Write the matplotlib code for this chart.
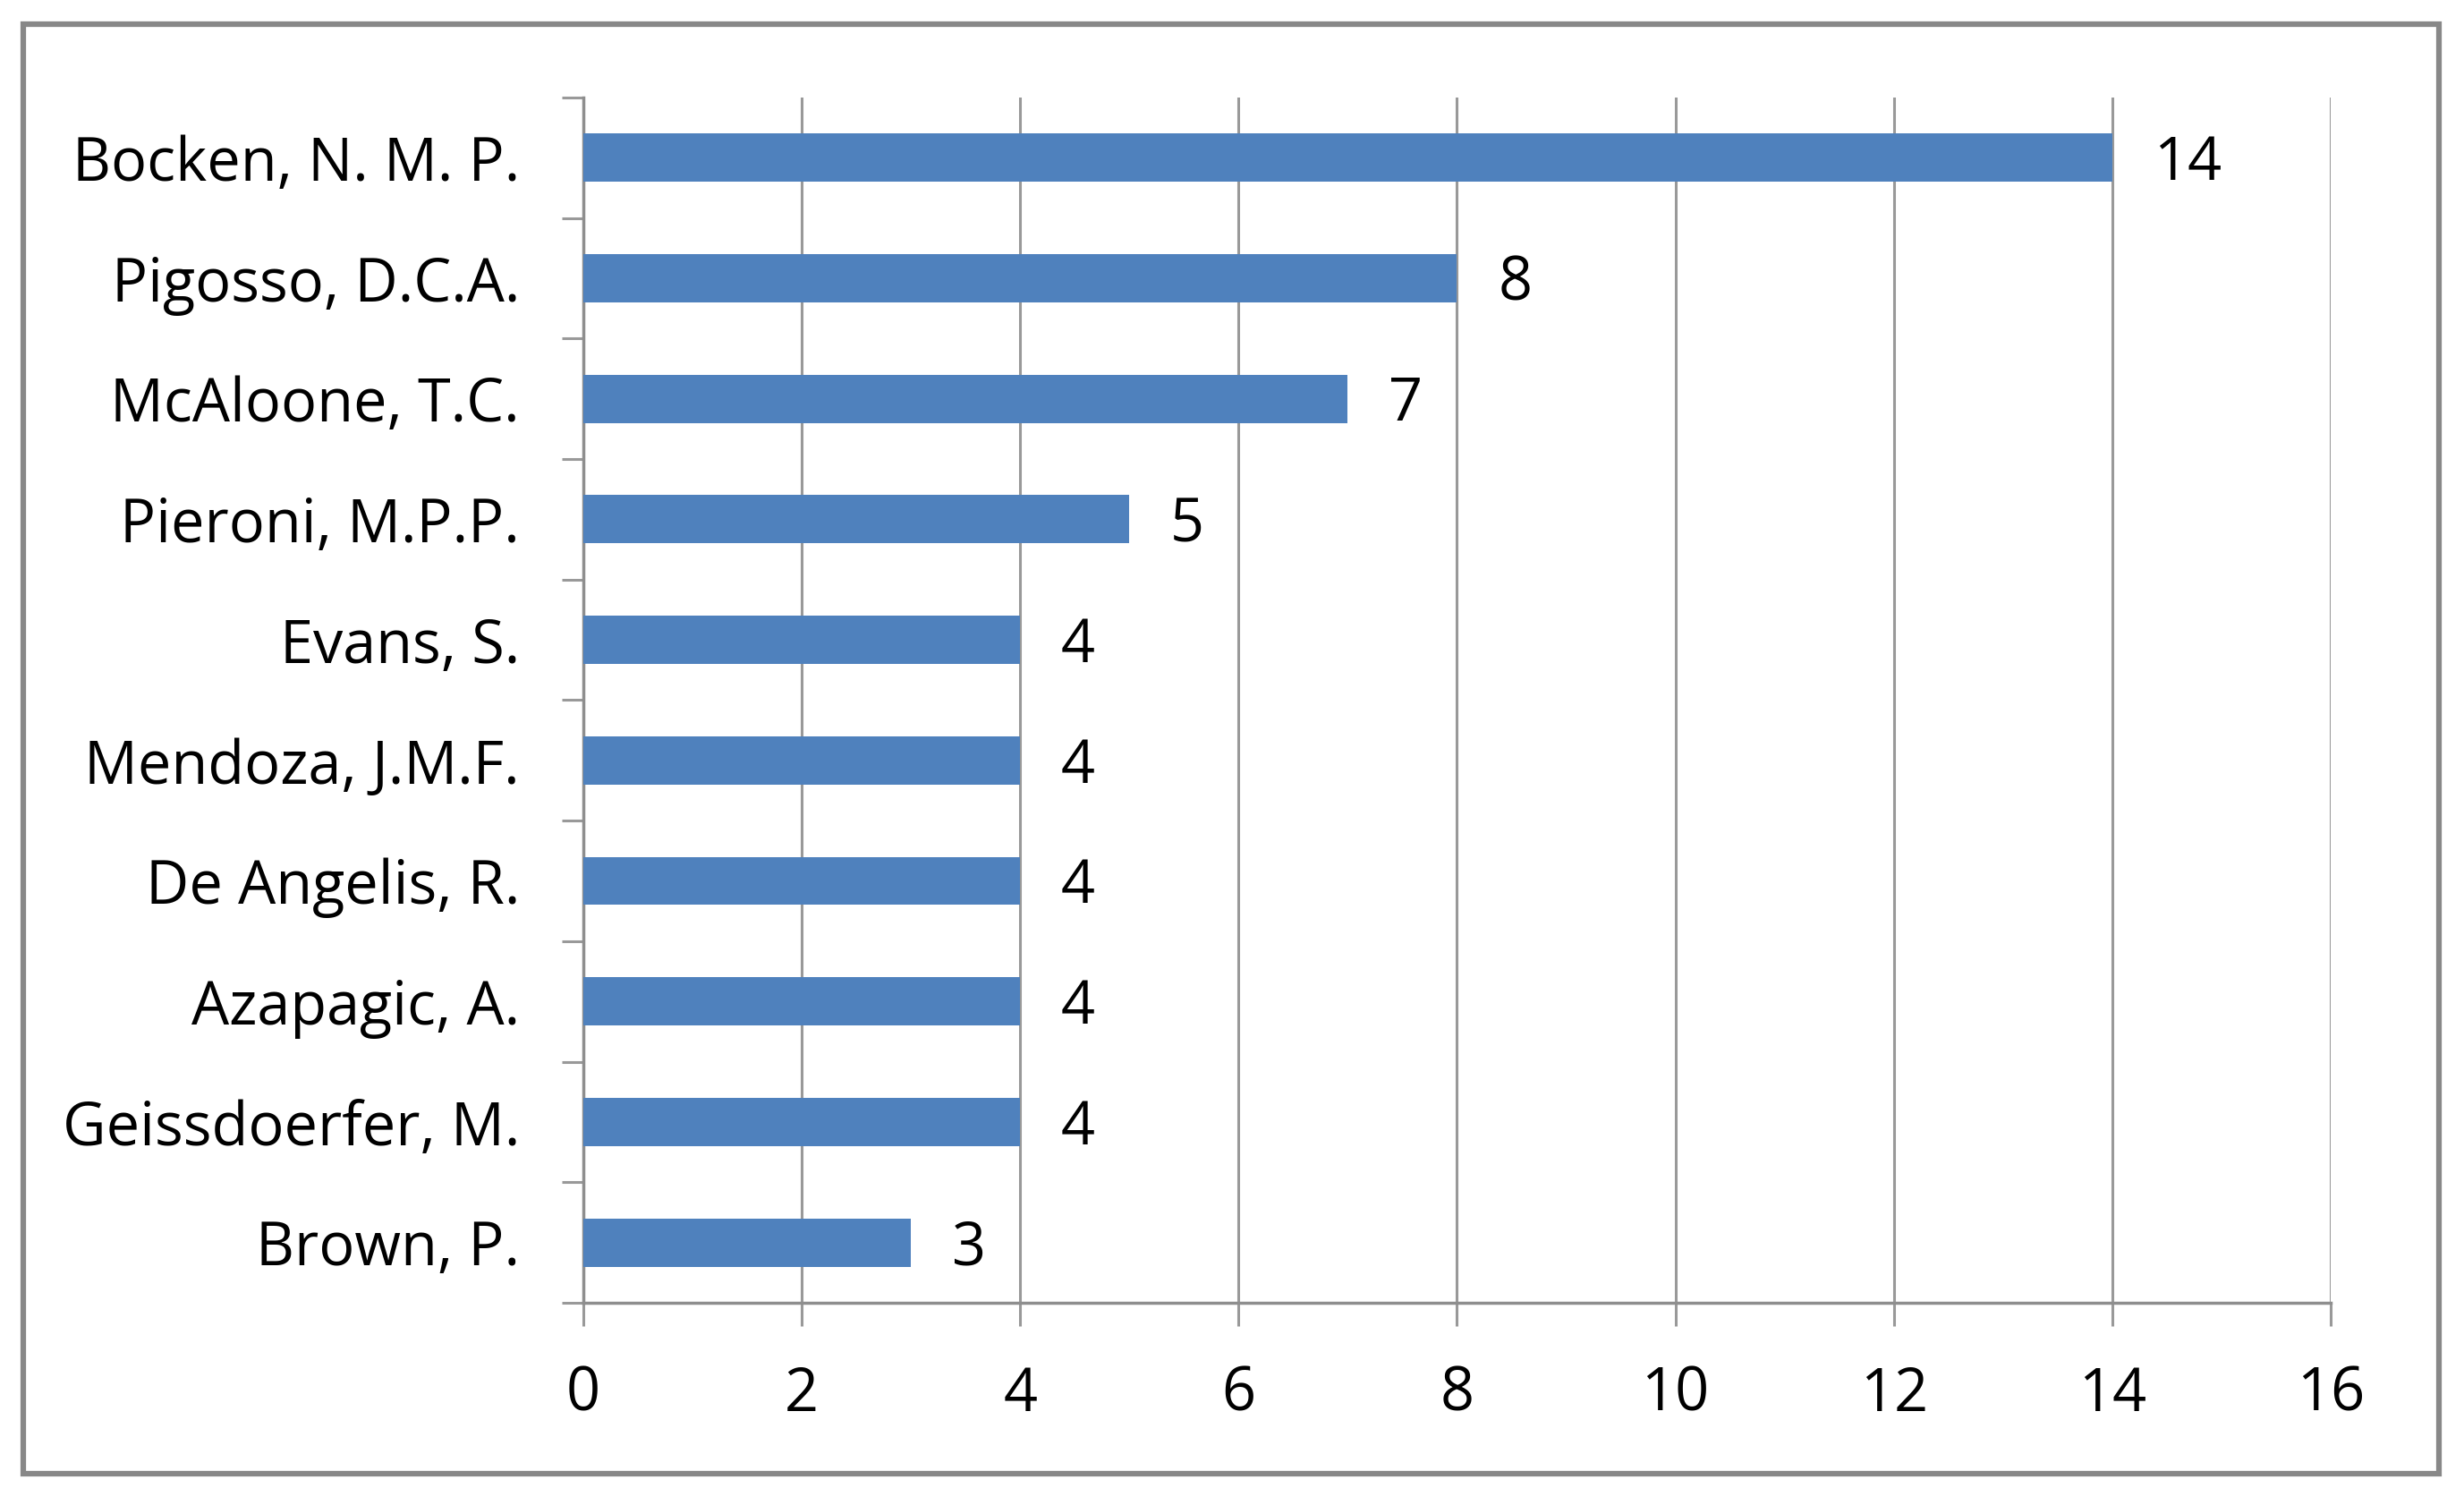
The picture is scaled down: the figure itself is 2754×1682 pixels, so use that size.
import numpy as np
import matplotlib.pyplot as plt
from matplotlib.patches import Rectangle

authors = ['Bocken, N. M. P.', 'Pigosso, D.C.A.', 'McAloone, T.C.', 'Pieroni, M.P.P.',
           'Evans, S.', 'Mendoza, J.M.F.', 'De Angelis, R.', 'Azapagic, A.',
           'Geissdoerfer, M.', 'Brown, P.']
counts = [14, 8, 7, 5, 4, 4, 4, 4, 4, 3]
x_ticks = [0, 2, 4, 6, 8, 10, 12, 14, 16]

plt.rcParams['font.family'] = ['Open Sans', 'DejaVu Sans']

fig = plt.figure(figsize=(27.54, 16.82), dpi=100)
ax = fig.add_axes([0.2367, 0.1344, 0.9459 - 0.2367, 0.9352 - 0.1344])

pos = np.arange(len(authors))
ax.barh(pos, counts, height=0.4, color='#4F81BD', zorder=3)
# value labels, a touch below bar centre like the original
for p, c in zip(pos, counts):
    ax.annotate(str(c), (c, p), xytext=(33, -5), textcoords='offset points',
                ha='left', va='center', fontsize=48, color='black')

ax.set_xlim(0, 16)
ax.set_ylim(len(authors) - 0.5, -0.5)
ax.set_xticks(x_ticks)
ax.set_yticks(pos)
ax.set_yticklabels(authors)
ax.set_yticks(np.arange(-0.5, len(authors)), minor=True)

grey = '#999999'
ax.grid(axis='x', color=grey, linewidth=2.2, zorder=0)
for s in ['top', 'right']:
    ax.spines[s].set_visible(False)
for s in ['left', 'bottom']:
    ax.spines[s].set_color('#8e8e8e')
    ax.spines[s].set_linewidth(2.5)

ax.tick_params(axis='x', which='major', length=19, width=2.2, color=grey,
               labelsize=48, pad=31)
ax.tick_params(axis='y', which='major', length=0, labelsize=48, pad=51)
ax.tick_params(axis='y', which='minor', length=17, width=2.2, color=grey)

# outer chart border
fig.patches.append(Rectangle((0.0094, 0.0208), 0.9804, 0.9631, transform=fig.transFigure,
                             fill=False, edgecolor='#888888', linewidth=4.5))

fig.savefig('out.png', dpi=100)
